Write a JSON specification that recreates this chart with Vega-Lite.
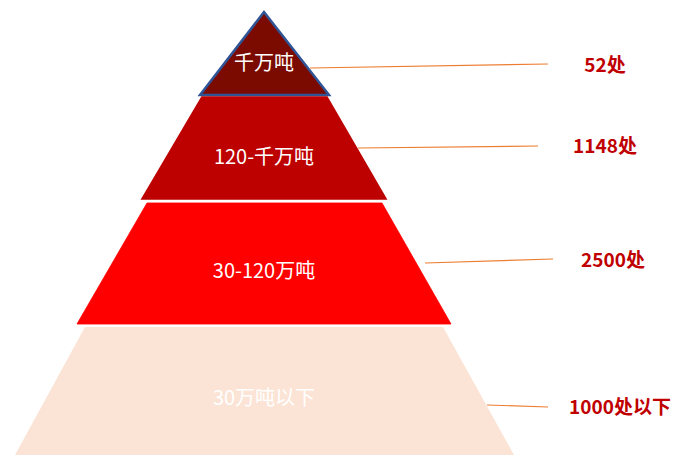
{
  "$schema": "https://vega.github.io/schema/vega-lite/v6.json",
  "width": 673,
  "height": 455,
  "padding": 0,
  "autosize": {"type": "fit", "contains": "padding"},
  "background": "white",
  "config": {"view": {"stroke": null}},
  "datasets": {
    "shapes": [
      {"layer": "L1", "y": 12, "xl": 264, "xr": 264},
      {"layer": "L1", "y": 95, "xl": 200, "xr": 329},
      {"layer": "L2", "y": 97, "xl": 202, "xr": 327},
      {"layer": "L2", "y": 199, "xl": 142, "xr": 386},
      {"layer": "L3", "y": 203, "xl": 147, "xr": 382},
      {"layer": "L3", "y": 324, "xl": 77, "xr": 451},
      {"layer": "L4", "y": 327, "xl": 85, "xr": 443},
      {"layer": "L4", "y": 455, "xl": 15, "xr": 514}
    ],
    "labels": [
      {"name": "千万吨", "count": "52处", "tx": 264, "ty": 64, "cx": 605, "cy": 66, "lx1": 310, "ly1": 68, "lx2": 548, "ly2": 64},
      {"name": "120-千万吨", "count": "1148处", "tx": 264, "ty": 158, "cx": 605, "cy": 147, "lx1": 358, "ly1": 148, "lx2": 538, "ly2": 146},
      {"name": "30-120万吨", "count": "2500处", "tx": 264, "ty": 272, "cx": 613, "cy": 261, "lx1": 425, "ly1": 263, "lx2": 553, "ly2": 259},
      {"name": "30万吨以下", "count": "1000处以下", "tx": 264, "ty": 399, "cx": 620, "cy": 408, "lx1": 487, "ly1": 405, "lx2": 548, "ly2": 407}
    ]
  },
  "layer": [
    {
      "data": {"name": "shapes"},
      "mark": {"type": "area", "orient": "horizontal", "interpolate": "linear"},
      "encoding": {
        "y": {"field": "y", "type": "quantitative", "scale": {"domain": [0, 455], "reverse": true, "nice": false, "zero": false}, "axis": null},
        "x": {"field": "xl", "type": "quantitative", "scale": {"domain": [0, 673], "nice": false, "zero": false}, "axis": null},
        "x2": {"field": "xr"},
        "color": {
          "field": "layer", "type": "nominal", "legend": null,
          "scale": {"domain": ["L1", "L2", "L3", "L4"], "range": ["#7B0A00", "#BD0000", "#FF0000", "#FBE4D5"]}
        },
        "stroke": {
          "field": "layer", "type": "nominal", "legend": null,
          "scale": {"domain": ["L1", "L2", "L3", "L4"], "range": ["#2F5597", "#BD0000", "#FF0000", "#FBE4D5"]}
        },
        "strokeWidth": {
          "field": "layer", "type": "nominal", "legend": null,
          "scale": {"domain": ["L1", "L2", "L3", "L4"], "range": [2.5, 0, 0, 0]}
        }
      }
    },
    {
      "data": {"name": "labels"},
      "mark": {"type": "rule", "color": "#ED7D31", "strokeWidth": 1.2},
      "encoding": {
        "x": {"field": "lx1", "type": "quantitative"},
        "y": {"field": "ly1", "type": "quantitative"},
        "x2": {"field": "lx2"},
        "y2": {"field": "ly2"}
      }
    },
    {
      "data": {"name": "labels"},
      "mark": {"type": "text", "color": "white", "font": "Noto Sans CJK SC", "fontSize": 20, "align": "center", "baseline": "middle"},
      "encoding": {
        "x": {"field": "tx", "type": "quantitative"},
        "y": {"field": "ty", "type": "quantitative"},
        "text": {"field": "name"}
      }
    },
    {
      "data": {"name": "labels"},
      "mark": {"type": "text", "color": "#C00000", "font": "Noto Sans CJK SC", "fontSize": 19, "fontWeight": "bold", "align": "center", "baseline": "middle"},
      "encoding": {
        "x": {"field": "cx", "type": "quantitative"},
        "y": {"field": "cy", "type": "quantitative"},
        "text": {"field": "count"}
      }
    }
  ]
}
